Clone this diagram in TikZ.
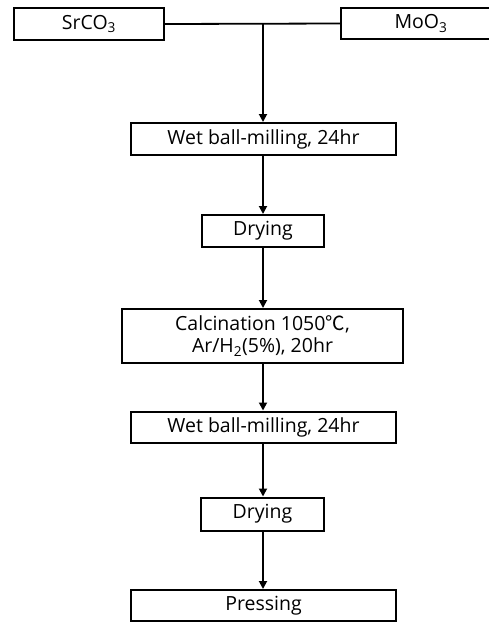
\documentclass[tikz,border=0pt]{standalone}
\usepackage{fontspec}
\setmainfont{Open Sans}
\newfontfamily\cjkfont{Noto Sans CJK KR}
\usetikzlibrary{arrows.meta}
\begin{document}
\begin{tikzpicture}[x=1pt,y=-1pt,
  box/.style={draw,line width=2pt,fill=white,inner sep=0pt,font=\fontsize{19.5}{22}\selectfont,align=center},
  conn/.style={line width=1.8pt},
  arr/.style={conn,-{Triangle[length=8pt,width=8pt]}}]
\useasboundingbox (0,0) rectangle (489,622);
\node[box,minimum width=150pt,minimum height=32pt] (sr) at (89,24) {SrCO\textsubscript{3}};
\node[box,minimum width=160pt,minimum height=31pt] (mo) at (421,23.5) {MoO\textsubscript{3}};
\coordinate (j) at (263,24);
\node[box,minimum width=265pt,minimum height=32pt] (w1) at (263.5,139) {Wet ball-milling, 24hr};
\node[box,minimum width=122pt,minimum height=32pt] (d1) at (263,231) {Drying};
\node[box,minimum width=281pt,minimum height=54pt] (ca) at (262.5,336) {Calcination 1050{\cjkfont ℃},\\Ar/H\textsubscript{2}(5\%), 20hr};
\node[box,minimum width=265pt,minimum height=31pt] (w2) at (263.5,427) {Wet ball-milling, 24hr};
\node[box,minimum width=123pt,minimum height=33pt] (d2) at (262.5,514) {Drying};
\node[box,minimum width=265pt,minimum height=31pt] (pr) at (263.5,605.5) {Pressing};
\draw[conn] (sr.east) -- (mo.west);
\draw[arr] (j) -- (j |- w1.north);
\draw[arr] (w1.south -| j) -- (j |- d1.north);
\draw[arr] (d1.south -| j) -- (j |- ca.north);
\draw[arr] (ca.south -| j) -- (j |- w2.north);
\draw[arr] (w2.south -| j) -- (j |- d2.north);
\draw[arr] (d2.south -| j) -- (j |- pr.north);
\end{tikzpicture}
\end{document}
